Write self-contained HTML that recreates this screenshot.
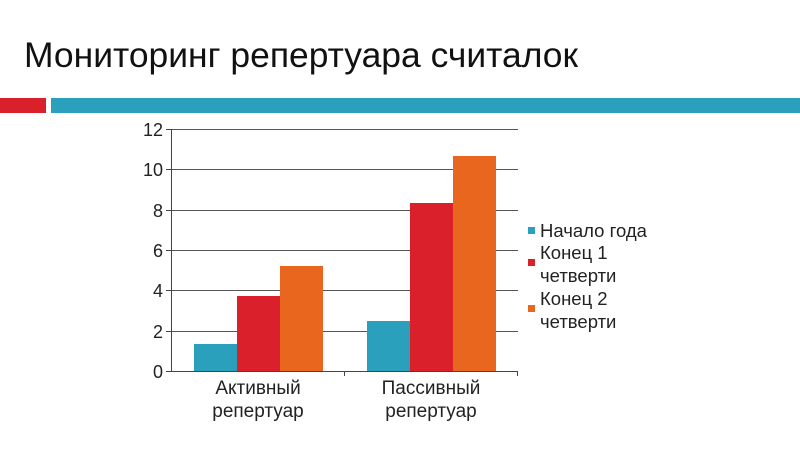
<!DOCTYPE html>
<html><head><meta charset="utf-8"><style>
body{margin:0;width:800px;height:450px;background:#fff;overflow:hidden;font-family:"Liberation Sans",sans-serif}
</style></head><body>
<svg width="800" height="450" xmlns="http://www.w3.org/2000/svg" font-family="Liberation Sans, sans-serif">
<text x="24" y="67" font-size="35.5" fill="#111" textLength="554" lengthAdjust="spacingAndGlyphs">Мониторинг репертуара считалок</text>
<rect x="0" y="98" width="46" height="15" fill="#d9202b"/>
<rect x="51" y="98" width="749" height="15" fill="#2ba0bd"/>
<g stroke="#555" stroke-width="1">
<line x1="171" y1="129.5" x2="518" y2="129.5"/>
<line x1="171" y1="169.5" x2="518" y2="169.5"/>
<line x1="171" y1="210.5" x2="518" y2="210.5"/>
<line x1="171" y1="250.5" x2="518" y2="250.5"/>
<line x1="171" y1="290.5" x2="518" y2="290.5"/>
<line x1="171" y1="331.5" x2="518" y2="331.5"/>
</g>
<rect x="194" y="344" width="43" height="27" fill="#2ba0bd"/>
<rect x="237" y="296" width="43" height="75" fill="#d9202b"/>
<rect x="280" y="266" width="43" height="105" fill="#e8661d"/>
<rect x="367" y="321" width="43" height="50" fill="#2ba0bd"/>
<rect x="410" y="203" width="43" height="168" fill="#d9202b"/>
<rect x="453" y="156" width="43" height="215" fill="#e8661d"/>
<g stroke="#444" stroke-width="1">
<line x1="171.5" y1="129" x2="171.5" y2="371"/>
<line x1="171" y1="371.5" x2="518" y2="371.5"/>
<line x1="166" y1="129.5" x2="171" y2="129.5"/><line x1="166" y1="169.5" x2="171" y2="169.5"/><line x1="166" y1="210.5" x2="171" y2="210.5"/><line x1="166" y1="250.5" x2="171" y2="250.5"/><line x1="166" y1="290.5" x2="171" y2="290.5"/><line x1="166" y1="331.5" x2="171" y2="331.5"/><line x1="166" y1="371.5" x2="171" y2="371.5"/>
<line x1="344.5" y1="371" x2="344.5" y2="376"/><line x1="517.5" y1="371" x2="517.5" y2="376"/>
</g>
<g font-size="18" fill="#222" text-anchor="end">
<text x="163" y="136">12</text><text x="163" y="176">10</text><text x="163" y="217">8</text><text x="163" y="257">6</text><text x="163" y="297">4</text><text x="163" y="338">2</text><text x="163" y="378">0</text>
</g>
<g font-size="19" fill="#222" text-anchor="middle">
<text x="258" y="394">Активный</text><text x="258" y="417">репертуар</text>
<text x="431" y="394">Пассивный</text><text x="431" y="417">репертуар</text>
</g>
<rect x="528" y="227" width="7" height="7" fill="#2ba0bd"/>
<rect x="528" y="259" width="7" height="7" fill="#d9202b"/>
<rect x="528" y="305" width="7" height="7" fill="#e8661d"/>
<g font-size="18.5" fill="#222">
<text x="540" y="237">Начало года</text>
<text x="540" y="259">Конец 1</text><text x="540" y="282">четверти</text>
<text x="540" y="305">Конец 2</text><text x="540" y="328">четверти</text>
</g>
</svg>
</body></html>
